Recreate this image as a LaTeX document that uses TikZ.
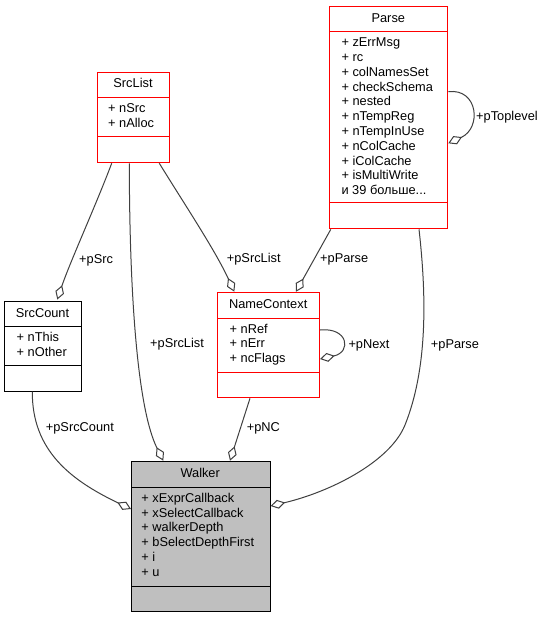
\documentclass[tikz,border=0pt]{standalone}
\usepackage{fontspec}
\setmainfont{Liberation Sans}
\usetikzlibrary{arrows.meta,calc}
\definecolor{edgegray}{HTML}{404040}
\definecolor{boxred}{HTML}{FF0000}
\definecolor{walkerfill}{HTML}{BFBFBF}
\begin{document}
\begin{tikzpicture}[x=1pt,y=-1pt,
  classbox/.style={draw=#1, line width=1pt, fill=white, inner sep=0pt, anchor=north west},
  divider/.style={draw=#1, line width=1pt},
  conn/.style={draw=edgegray, line width=1pt, -{Diamond[open,length=15pt,width=9pt]}},
  txt/.style={inner sep=0pt, font=\fontsize{12.8}{14.8}\selectfont},
  titletext/.style={txt, anchor=base},
  attr/.style={txt, anchor=base west},
  elabel/.style={txt, anchor=west}]
\useasboundingbox (0,0) rectangle (542,617);
\fill[white] (0,0) rectangle (542,617);

% ---- Parse ----
\node[classbox=boxred, minimum width=118pt, minimum height=222.6pt] (parse) at (329.3,5.7) {};
\draw[divider=boxred] (329.3,31.7) -- (447.3,31.7);
\draw[divider=boxred] (329.3,202.3) -- (447.3,202.3);
\node[titletext] (parse-t) at (388.3,22.2) {Parse};
\foreach \t [count=\i from 0] in {+ zErrMsg,+ rc,+ colNamesSet,+ checkSchema,+ nested,+ nTempReg,+ nTempInUse,+ nColCache,+ iColCache,+ isMultiWrite}
  \node[attr] (parse-a\i) at (341.3,46.7+14.8*\i) {\t};
\node[attr] (parse-more) at (341.3,194.7) {и 39 больше...};

% ---- SrcList ----
\node[classbox=boxred, minimum width=71.4pt, minimum height=90.6pt] (srclist) at (97.3,71.7) {};
\draw[divider=boxred] (97.3,97.3) -- (168.7,97.3);
\draw[divider=boxred] (97.3,136.7) -- (168.7,136.7);
\node[titletext] (srclist-t) at (133,88) {SrcList};
\foreach \t [count=\i from 0] in {+ nSrc,+ nAlloc}
  \node[attr] (srclist-a\i) at (108,112.3+14.8*\i) {\t};

% ---- SrcCount ----
\node[classbox=black, minimum width=76.4pt, minimum height=89.7pt] (srccount) at (4.3,301) {};
\draw[divider=black] (4.3,326.7) -- (80.7,326.7);
\draw[divider=black] (4.3,365) -- (80.7,365);
\node[titletext] (srccount-t) at (42.5,317.3) {SrcCount};
\foreach \t [count=\i from 0] in {+ nThis,+ nOther}
  \node[attr] (srccount-a\i) at (16.5,341.7+14.8*\i) {\t};

% ---- NameContext ----
\node[classbox=boxred, minimum width=101.7pt, minimum height=105pt] (namectx) at (217.3,292.3) {};
\draw[divider=boxred] (217.3,318) -- (319,318);
\draw[divider=boxred] (217.3,372.7) -- (319,372.7);
\node[titletext] (namectx-t) at (268.2,308.7) {NameContext};
\foreach \t [count=\i from 0] in {+ nRef,+ nErr,+ ncFlags}
  \node[attr] (namectx-a\i) at (229.5,333+14.8*\i) {\t};

% ---- Walker ----
\node[classbox=black, fill=walkerfill, minimum width=138.5pt, minimum height=150.3pt] (walker) at (131,460.7) {};
\draw[divider=black] (131,487.3) -- (269.5,487.3);
\draw[divider=black] (131,586) -- (269.5,586);
\node[titletext] (walker-t) at (200.2,477.5) {Walker};
\foreach \t [count=\i from 0] in {+ xExprCallback,+ xSelectCallback,+ walkerDepth,+ bSelectDepthFirst,+ i,+ u}
  \node[attr] (walker-a\i) at (141.2,502.3+14.8*\i) {\t};

% ---- connectors ----
\draw[conn] ([xshift=14.4pt]srclist.south west) .. controls (96,205) and (70,262) .. ([xshift=53pt,yshift=1.5pt]srccount.north west);
\node[elabel] (l-psrc) at (79,260) {+pSrc};

\draw[conn] ([xshift=32pt]srclist.south west) .. controls (129.5,300) and (138,410) .. ([xshift=32.3pt]walker.north west);
\node[elabel] (l-psrclist-w) at (150,344) {+pSrcList};

\draw[conn] ([xshift=62pt]srclist.south west) .. controls (185,205) and (215,250) .. ([xshift=17pt,yshift=0.6pt]namectx.north west);
\node[elabel] (l-psrclist-nc) at (226.7,259.3) {+pSrcList};

\draw[conn] ([xshift=1.5pt]parse.south west) -- ([xshift=78.7pt,yshift=0.6pt]namectx.north west);
\node[elabel] (l-pparse-nc) at (320,259.3) {+pParse};

\draw[conn] ([xshift=89.7pt]parse.south west) .. controls (427,300) and (427,370) .. (405,425) .. controls (390,462) and (330,492) .. ([yshift=-45.3pt]walker.north east);
\node[elabel] (l-pparse-w) at (430.7,345) {+pParse};

\draw[conn] ([yshift=-37.7pt]namectx.north east) .. controls (348,327) and (352,352) .. ([yshift=-66.7pt]namectx.north east);
\node[elabel] (l-pnext) at (348.3,345) {+pNext};

\draw[conn] ([yshift=-86pt]parse.north east) .. controls (478,88) and (482,128) .. ([yshift=-137.6pt]parse.north east);
\node[elabel] (l-ptoplevel) at (476,116.7) {+pToplevel};

\draw[conn] ([xshift=28pt]srccount.south west) .. controls (32,450) and (70,480) .. ([yshift=-48.3pt]walker.north west);
\node[elabel] (l-psrccount) at (45.7,428.3) {+pSrcCount};

\draw[conn] ([xshift=32.7pt]namectx.south west) -- ([xshift=99pt]walker.north west);
\node[elabel] (l-pnc) at (246.7,428.3) {+pNC};
\end{tikzpicture}
\end{document}
